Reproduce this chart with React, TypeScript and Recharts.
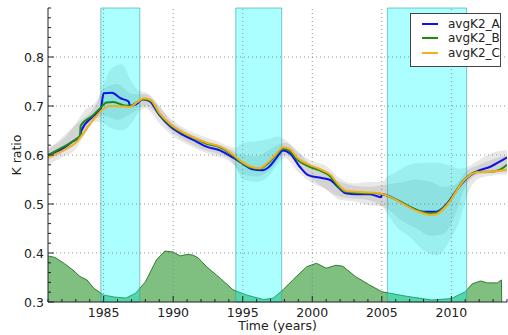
import React from 'react';
import { ComposedChart, Area, Line, XAxis, YAxis, ReferenceArea, ReferenceLine } from 'recharts';

document.body.style.margin = '0';

const FONT = '"DejaVu Sans", sans-serif';

// series A / B / C: year positions and K ratio values
const aYears = [1981.0, 1982.0, 1982.8, 1983.3, 1983.4, 1984.2, 1984.8, 1985.0, 1985.6, 1986.2, 1986.8, 1986.9, 1987.4, 1987.8, 1988.3, 1989.0, 1989.8, 1990.7, 1991.7, 1992.4, 1993.4, 1993.8, 1994.8, 1995.7, 1996.4, 1996.9, 1997.4, 1997.9, 1998.4, 1999.1, 1999.7, 2000.5, 2001.3, 2001.7, 2002.4, 2003.2, 2004.1, 2004.95, 2005.0, 2006.1, 2007.0, 2008.0, 2008.9, 2009.7, 2010.4, 2011.1, 2011.8, 2012.8, 2013.7, 2014.0];
const aValues = [0.600, 0.612, 0.628, 0.637, 0.650, 0.678, 0.695, 0.726, 0.727, 0.716, 0.709, 0.700, 0.705, 0.714, 0.710, 0.682, 0.658, 0.641, 0.627, 0.617, 0.609, 0.603, 0.586, 0.571, 0.569, 0.576, 0.593, 0.609, 0.603, 0.576, 0.559, 0.554, 0.549, 0.539, 0.522, 0.520, 0.520, 0.514, 0.520, 0.508, 0.494, 0.484, 0.484, 0.501, 0.529, 0.552, 0.566, 0.576, 0.590, 0.595];

const bYears = [1981.0, 1982.0, 1983.0, 1983.3, 1983.35, 1984.2, 1984.8, 1985.2, 1985.7, 1986.5, 1986.9, 1987.4, 1987.9, 1988.4, 1989.0, 1989.8, 1990.7, 1991.7, 1992.4, 1993.4, 1994.0, 1994.8, 1995.5, 1996.2, 1996.7, 1997.4, 1997.9, 1998.4, 1998.9, 1999.8, 2000.5, 2001.3, 2001.9, 2002.4, 2003.7, 2004.6, 2005.3, 2006.3, 2007.5, 2008.5, 2008.9, 2009.7, 2010.9, 2011.8, 2012.8, 2013.5, 2014.0];
const bValues = [0.600, 0.615, 0.632, 0.640, 0.660, 0.680, 0.697, 0.707, 0.708, 0.701, 0.700, 0.708, 0.714, 0.710, 0.684, 0.661, 0.645, 0.632, 0.623, 0.615, 0.605, 0.587, 0.575, 0.572, 0.580, 0.600, 0.613, 0.608, 0.591, 0.576, 0.569, 0.556, 0.535, 0.525, 0.522, 0.522, 0.518, 0.505, 0.488, 0.481, 0.482, 0.500, 0.549, 0.566, 0.566, 0.570, 0.580];

const cYears = [1981.0, 1982.0, 1983.0, 1984.2, 1984.8, 1985.5, 1986.5, 1986.9, 1987.4, 1987.9, 1988.4, 1989.0, 1989.8, 1990.7, 1991.7, 1992.4, 1993.4, 1994.0, 1994.8, 1995.5, 1996.2, 1996.7, 1997.4, 1997.9, 1998.4, 1998.9, 1999.8, 2000.5, 2001.3, 2001.9, 2002.4, 2003.7, 2004.6, 2005.3, 2006.3, 2007.5, 2008.5, 2008.9, 2009.7, 2010.9, 2011.8, 2012.8, 2013.5, 2014.0];
const cValues = [0.595, 0.608, 0.625, 0.670, 0.690, 0.700, 0.699, 0.698, 0.708, 0.716, 0.712, 0.686, 0.663, 0.646, 0.633, 0.625, 0.617, 0.607, 0.589, 0.577, 0.573, 0.582, 0.602, 0.616, 0.612, 0.595, 0.580, 0.572, 0.560, 0.539, 0.527, 0.524, 0.523, 0.518, 0.504, 0.486, 0.478, 0.479, 0.498, 0.548, 0.565, 0.566, 0.568, 0.570];

// spread envelopes (outer = lighter, inner = darker)
const outerYears = [1981, 1982, 1983, 1983.6, 1984.5, 1985, 1985.5, 1986.3, 1987, 1987.6, 1988, 1989, 1990, 1991, 1992, 1993, 1994, 1994.5, 1995, 1996, 1996.8, 1997.5, 1998, 1999, 2000, 2001, 2002, 2003, 2004, 2005, 2005.4, 2006, 2007, 2008, 2009, 2009.9, 2010.6, 2011.1, 2012, 2013, 2014];
const outerLow = [0.580, 0.595, 0.612, 0.640, 0.668, 0.665, 0.655, 0.650, 0.665, 0.690, 0.695, 0.665, 0.638, 0.622, 0.608, 0.598, 0.588, 0.575, 0.550, 0.545, 0.555, 0.580, 0.594, 0.565, 0.543, 0.530, 0.508, 0.505, 0.498, 0.495, 0.480, 0.455, 0.433, 0.405, 0.395, 0.427, 0.467, 0.515, 0.552, 0.558, 0.560];
const outerHigh = [0.615, 0.630, 0.665, 0.690, 0.710, 0.745, 0.775, 0.785, 0.750, 0.730, 0.728, 0.700, 0.670, 0.652, 0.640, 0.630, 0.618, 0.615, 0.625, 0.628, 0.632, 0.638, 0.632, 0.605, 0.588, 0.578, 0.552, 0.542, 0.545, 0.545, 0.556, 0.565, 0.580, 0.584, 0.584, 0.578, 0.572, 0.575, 0.590, 0.605, 0.610];

const innerYears = [1981, 1983, 1984.5, 1985, 1986, 1987, 1988, 1990, 1992, 1994, 1995, 1996, 1997, 1998, 2000, 2002, 2004, 2005.4, 2006.5, 2007.5, 2008.5, 2009.5, 2010.3, 2011, 2012, 2014];
const innerLow = [0.590, 0.625, 0.675, 0.680, 0.672, 0.685, 0.700, 0.645, 0.613, 0.593, 0.560, 0.556, 0.570, 0.600, 0.550, 0.515, 0.508, 0.490, 0.465, 0.450, 0.435, 0.440, 0.480, 0.535, 0.560, 0.565];
const innerHigh = [0.610, 0.662, 0.705, 0.735, 0.745, 0.725, 0.724, 0.665, 0.633, 0.613, 0.600, 0.597, 0.612, 0.625, 0.578, 0.545, 0.535, 0.540, 0.545, 0.550, 0.545, 0.535, 0.540, 0.565, 0.580, 0.600];

// bottom green profile
const greenYears = [1981.0, 1981.5, 1982.2, 1982.8, 1983.3, 1983.8, 1984.3, 1985.0, 1985.8, 1986.6, 1987.3, 1988.0, 1988.8, 1989.4, 1990.0, 1990.5, 1991.0, 1991.4, 1991.8, 1992.4, 1993.4, 1994.3, 1995.3, 1996.5, 1997.2, 1997.9, 1998.6, 1999.6, 2000.3, 2001.0, 2001.7, 2002.2, 2003.1, 2004.1, 2005.0, 2006.7, 2008.6, 2010.0, 2011.0, 2011.5, 2012.1, 2012.6, 2013.3, 2013.6, 2013.62];
const greenValues = [0.394, 0.391, 0.378, 0.365, 0.352, 0.345, 0.328, 0.314, 0.310, 0.308, 0.318, 0.341, 0.386, 0.404, 0.402, 0.394, 0.397, 0.396, 0.390, 0.372, 0.348, 0.325, 0.314, 0.305, 0.308, 0.325, 0.345, 0.372, 0.379, 0.369, 0.375, 0.373, 0.352, 0.335, 0.321, 0.312, 0.304, 0.307, 0.321, 0.337, 0.343, 0.339, 0.339, 0.345, 0.300];

// highlighted periods [start, end]
const spans = [[1984.8, 1987.6], [1994.5, 1997.8], [2005.4, 2011.1]];

const xTicks = [1981, 1982, 1983, 1984, 1985, 1986, 1987, 1988, 1989, 1990, 1991, 1992, 1993, 1994, 1995, 1996, 1997, 1998, 1999, 2000, 2001, 2002, 2003, 2004, 2005, 2006, 2007, 2008, 2009, 2010, 2011, 2012, 2013, 2014];
const xMajor = [1985, 1990, 1995, 2000, 2005, 2010];
const yTicks = [0.3, 0.32, 0.34, 0.36, 0.38, 0.4, 0.42, 0.44, 0.46, 0.48, 0.5, 0.52, 0.54, 0.56, 0.58, 0.6, 0.62, 0.64, 0.66, 0.68, 0.7, 0.72, 0.74, 0.76, 0.78, 0.8, 0.82, 0.84, 0.86, 0.88, 0.9];
const yMajor = [0.3, 0.4, 0.5, 0.6, 0.7, 0.8];
const yGrid = [0.4, 0.5, 0.6, 0.7, 0.8];

const seriesNames = ['avgK2_A', 'avgK2_B', 'avgK2_C'];
const seriesColors = ['#1010e8', '#1a8a1a', '#f2b01e'];

const zip = (xs: number[], ys: number[]) => xs.map((year, i) => ({ year, value: ys[i] }));
const band = (xs: number[], lo: number[], hi: number[]) => xs.map((year, i) => ({ year, range: [lo[i], hi[i]] }));

const lineData = [zip(aYears, aValues), zip(bYears, bValues), zip(cYears, cValues)];

const BottomTick = ({ x, y, payload }: any) => {
  const major = xMajor.includes(payload.value);
  return (
    <g>
      <line x1={x} x2={x} y1={y} y2={y - (major ? 6 : 3)} stroke="#222" />
      {major && (
        <text x={x} y={y + 15} textAnchor="middle" fontSize={12.5} fill="#222" fontFamily={FONT}>
          {payload.value}
        </text>
      )}
    </g>
  );
};

const TopTick = ({ x, y, payload }: any) => {
  const major = xMajor.includes(payload.value);
  return <line x1={x} x2={x} y1={y} y2={y + (major ? 6 : 3)} stroke="#222" />;
};

const LeftTick = ({ x, y, payload }: any) => {
  const major = yMajor.includes(payload.value);
  return (
    <g>
      <line x1={x} x2={x + (major ? 6 : 3)} y1={y} y2={y} stroke="#222" />
      {major && (
        <text x={x - 4} y={y + 4.5} textAnchor="end" fontSize={12.5} fill="#222" fontFamily={FONT}>
          {payload.value.toFixed(1)}
        </text>
      )}
    </g>
  );
};

const RightTick = ({ x, y, payload }: any) => {
  const major = yMajor.includes(payload.value);
  return <line x1={x} x2={x - (major ? 6 : 3)} y1={y} y2={y} stroke="#222" />;
};

export default function App() {
  return (
    <div style={{ position: 'relative', width: 508, height: 335, fontFamily: FONT }}>
      <ComposedChart width={508} height={335} margin={{ top: 8, right: 1, bottom: 0, left: 0 }}>
        <XAxis
          type="number"
          dataKey="year"
          domain={[1981, 2014]}
          ticks={xTicks}
          interval={0}
          height={33}
          tickSize={0}
          tickMargin={0}
          tickLine={false}
          tick={BottomTick}
          axisLine={{ stroke: '#222' }}
          allowDataOverflow
        />
        <XAxis
          xAxisId="top"
          orientation="top"
          type="number"
          dataKey="year"
          domain={[1981, 2014]}
          ticks={xTicks}
          interval={0}
          height={0}
          tickSize={0}
          tickMargin={0}
          tickLine={false}
          tick={TopTick}
          axisLine={{ stroke: '#222' }}
          allowDataOverflow
        />
        <YAxis
          type="number"
          domain={[0.3, 0.9]}
          ticks={yTicks}
          interval={0}
          width={48}
          tickSize={0}
          tickMargin={0}
          tickLine={false}
          tick={LeftTick}
          axisLine={{ stroke: '#222' }}
          allowDataOverflow
        />
        <YAxis
          yAxisId="right"
          orientation="right"
          type="number"
          domain={[0.3, 0.9]}
          ticks={yTicks}
          interval={0}
          width={0}
          tickSize={0}
          tickMargin={0}
          tickLine={false}
          tick={RightTick}
          axisLine={{ stroke: '#222' }}
          allowDataOverflow
        />

        <Area
          data={band(outerYears, outerLow, outerHigh)}
          dataKey="range"
          type="monotone"
          stroke="none"
          fill="#000"
          fillOpacity={0.09}
          isAnimationActive={false}
          activeDot={false}
        />
        <Area
          data={band(innerYears, innerLow, innerHigh)}
          dataKey="range"
          type="monotone"
          stroke="none"
          fill="#000"
          fillOpacity={0.09}
          isAnimationActive={false}
          activeDot={false}
        />
        <Area
          data={zip(greenYears, greenValues)}
          dataKey="value"
          type="linear"
          baseValue={0.3}
          stroke="#2f7d2f"
          strokeWidth={1}
          fill="#008000"
          fillOpacity={0.5}
          isAnimationActive={false}
          activeDot={false}
        />

        {spans.map(([s, e]) => (
          <ReferenceArea
            key={s}
            x1={s}
            x2={e}
            fill="#00ffff"
            fillOpacity={0.33}
            stroke="#3b9ea0"
            strokeOpacity={0.6}
            zIndex={150}
          />
        ))}

        {xMajor.map((v) => (
          <ReferenceLine key={v} x={v} stroke="#777" strokeDasharray="1 3" strokeWidth={0.8} zIndex={160} />
        ))}
        {yGrid.map((v) => (
          <ReferenceLine key={v} y={v} stroke="#777" strokeDasharray="1 3" strokeWidth={0.8} zIndex={160} />
        ))}

        {lineData.map((d, i) => (
          <Line
            key={seriesNames[i]}
            data={d}
            dataKey="value"
            name={seriesNames[i]}
            type="monotone"
            stroke={seriesColors[i]}
            strokeWidth={2}
            dot={false}
            activeDot={false}
            isAnimationActive={false}
          />
        ))}
      </ComposedChart>

      {/* axis titles */}
      <div style={{ position: 'absolute', left: 48, width: 459, top: 318, textAlign: 'center', fontSize: 12.5, color: '#222' }}>
        Time (years)
      </div>
      <div
        style={{
          position: 'absolute',
          left: 16,
          top: 155,
          transform: 'translate(-50%, -50%) rotate(-90deg)',
          fontSize: 12.5,
          color: '#222',
          whiteSpace: 'nowrap',
        }}
      >
        K ratio
      </div>

      {/* legend */}
      <div
        style={{
          position: 'absolute',
          left: 410,
          top: 13,
          width: 89,
          height: 52,
          background: '#fff',
          border: '1px solid #444',
          fontSize: 12,
          color: '#222',
        }}
      >
        {seriesNames.map((n, i) => (
          <div key={n} style={{ position: 'absolute', left: 0, top: 3 + i * 14.3, height: 14, display: 'flex', alignItems: 'center' }}>
            <div style={{ marginLeft: 11, width: 16, height: 2, background: seriesColors[i] }} />
            <span style={{ marginLeft: 10 }}>{n}</span>
          </div>
        ))}
      </div>
    </div>
  );
}
